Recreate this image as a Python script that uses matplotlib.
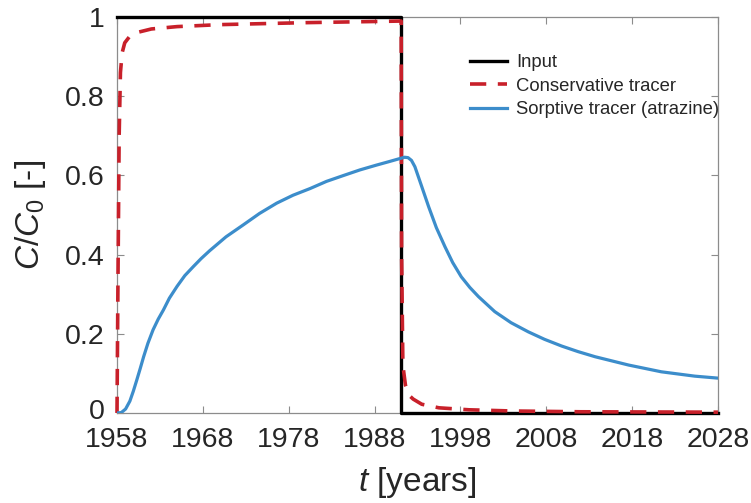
import matplotlib
matplotlib.use("Agg")
import matplotlib.pyplot as plt
from matplotlib.transforms import ScaledTranslation

plt.rcParams["font.family"] = ["Liberation Sans", "DejaVu Sans"]
plt.rcParams["mathtext.fontset"] = "custom"
plt.rcParams["mathtext.it"] = "Liberation Sans:italic"
plt.rcParams["mathtext.rm"] = "Liberation Sans"

# Input signal (step)
input_t = [1958, 1991.1, 1991.1, 2028]
input_c = [1, 1, 0, 0]

# Conservative tracer breakthrough
cons_t = [1958, 1958.1, 1958.25, 1958.4, 1958.6, 1958.9, 1959.5, 1960.5, 1962,
          1965, 1970, 1980, 1991.1, 1991.15, 1991.3, 1991.6, 1992, 1992.5,
          1993.5, 1995.5, 1999, 2004, 2012, 2028]
cons_c = [0, 0.3, 0.7, 0.86, 0.91, 0.935, 0.952, 0.962, 0.970,
          0.976, 0.981, 0.986, 0.99, 0.4, 0.12, 0.07, 0.045, 0.035,
          0.022, 0.013, 0.008, 0.005, 0.003, 0.002]

# Sorptive tracer (atrazine) breakthrough
sorp_t = [1958, 1958.5, 1959, 1959.5, 1959.9, 1960.3, 1960.7, 1961.1, 1961.6,
          1962.2, 1962.8, 1963.4, 1964.1, 1965.0, 1965.9, 1966.9, 1967.8,
          1968.8, 1970.7, 1972.7, 1974.6, 1976.6, 1978.5, 1980.5, 1982.4,
          1984.4, 1986.3, 1988.2, 1989.7, 1991.0, 1991.5, 1991.9, 1992.3,
          1992.7, 1993.4, 1994.3, 1995.2, 1996.2, 1997.1, 1998.1, 1999.1,
          2000.1, 2002.0, 2003.9, 2005.9, 2007.8, 2009.8, 2011.7, 2013.7,
          2017.6, 2021.4, 2025.3, 2028]
sorp_c = [0, 0.001, 0.01, 0.03, 0.055, 0.083, 0.112, 0.142, 0.176,
          0.21, 0.237, 0.26, 0.29, 0.32, 0.347, 0.37, 0.39,
          0.41, 0.445, 0.475, 0.504, 0.53, 0.55, 0.567, 0.585,
          0.60, 0.614, 0.626, 0.635, 0.643, 0.646, 0.645, 0.638,
          0.622, 0.578, 0.521, 0.468, 0.42, 0.38, 0.344, 0.317,
          0.294, 0.256, 0.228, 0.205, 0.186, 0.169, 0.155, 0.142,
          0.121, 0.104, 0.093, 0.088]

x_ticks = [1958, 1968, 1978, 1988, 1998, 2008, 2018, 2028]
y_ticks = [0, 0.2, 0.4, 0.6, 0.8, 1]
y_tick_labels = ["0", "0.2", "0.4", "0.6", "0.8", "1"]

fig = plt.figure(figsize=(7.51, 5.03), dpi=100)
ax = fig.add_axes([0.1558, 0.179, 0.8002, 0.787])

ax.plot(input_t, input_c, color="black", lw=2.4, label="Input", clip_on=False,
        zorder=3)
ax.plot(cons_t, cons_c, color="#C8202A", lw=2.6, ls=(0, (4.5, 3.2)),
        label="Conservative tracer", clip_on=False, zorder=4)
ax.plot(sorp_t, sorp_c, color="#3C8DCB", lw=2.3,
        label="Sorptive tracer (atrazine)", zorder=5)

ax.set_xlim(1958, 2028)
ax.set_ylim(0, 1)
ax.set_xticks(x_ticks)
ax.set_yticks(y_ticks)
ax.set_yticklabels(y_tick_labels)

for s in ax.spines.values():
    s.set_color("#8c8c8c")
    s.set_linewidth(0.9)
ax.tick_params(direction="in", length=5, width=0.8, color="#8c8c8c",
               labelsize=20.5, labelcolor="#262626", top=True, right=True)
ax.tick_params(axis="x", pad=10)
ax.tick_params(axis="y", pad=9)

ax.set_xlabel(r"$t$ [years]", fontsize=24, color="#262626", labelpad=9)
ax.set_ylabel(r"$C/C_0$ [-]", fontsize=24, color="#262626", labelpad=12)

leg = ax.legend(loc="upper left", bbox_to_anchor=(0.575, 0.925), frameon=False,
                fontsize=13.3, handlelength=2.0, handletextpad=0.5,
                labelspacing=0.35, borderaxespad=0)
for t in leg.get_texts():
    t.set_color("#262626")

# lift the "0" label slightly so it clears the first year label
fig.canvas.draw()
zero_label = ax.get_yticklabels()[0]
zero_label.set_transform(zero_label.get_transform()
                         + ScaledTranslation(0, 3 / 72, fig.dpi_scale_trans))

fig.savefig("out.png", dpi=100)
